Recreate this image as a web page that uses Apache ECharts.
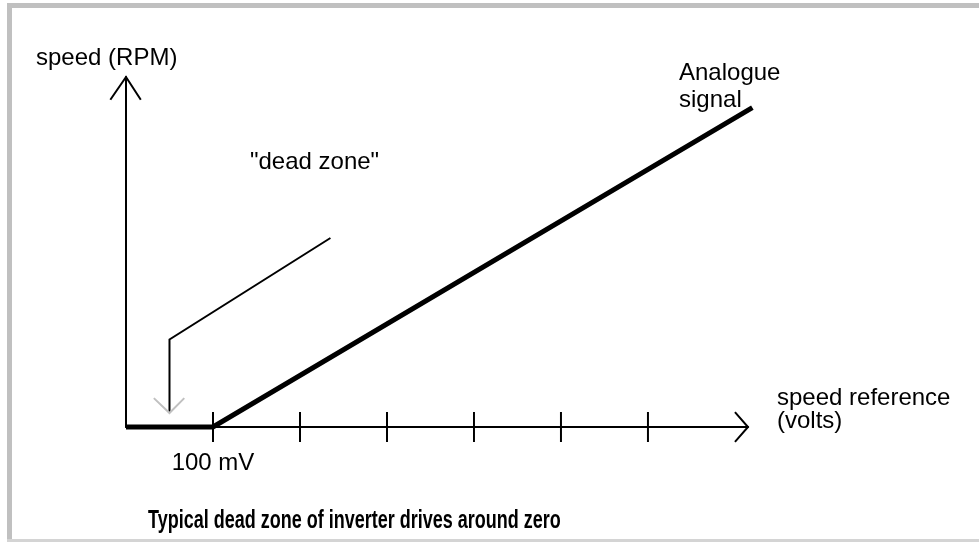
<!DOCTYPE html>
<html>
<head>
<meta charset="utf-8">
<script src="https://cdn.jsdelivr.net/npm/echarts@6/dist/echarts.min.js"></script>
<style>
  html, body { margin: 0; padding: 0; background: #fff; }
  #chart { width: 979px; height: 542px; }
</style>
</head>
<body>
<div id="chart"></div>
<script>
// Speed reference in tick units (one tick = 100 mV step) against motor speed
const tickValues = [1, 2, 3, 4, 5, 6];
const tickLabelText = '100 mV';
const signalX = [0, 1, 7.2];
const signalY = [0, 0, 3.65];
// "dead zone" leader: kinked line ending in an open arrow
const leaderX = [2.35, 0.5, 0.5];
const leaderY = [2.16, 1.0, 0.16];
const leaderHeadX = [0.32, 0.5, 0.67];
const leaderHeadY = [0.33, 0.16, 0.33];
// open arrowheads at the ends of both axes
const yArrowX = [-0.18, 0, 0.17];
const yArrowY = [3.74, 4.0, 3.74];
const xArrowX = [7.0, 7.15, 7.0];
const xArrowY = [0.17, 0, -0.17];

const FONT = '"Liberation Sans", Arial, sans-serif';
const toPairs = (xs, ys) => xs.map((x, i) => [x, ys[i]]);

const chart = echarts.init(document.getElementById('chart'), null, { renderer: 'canvas' });

// a polyline drawn through the axes' scales
const polyline = (name, xs, ys, width, color) => ({
  name, type: 'custom', silent: true, animation: false, clip: false,
  data: [0],
  renderItem: (params, api) => ({
    type: 'polyline',
    shape: { points: toPairs(xs, ys).map(p => api.coord(p)) },
    style: { stroke: color, lineWidth: width, fill: null, lineJoin: 'miter', lineCap: 'butt' }
  })
});

const text = (str, x, y, extra) => ({
  type: 'text', silent: true,
  style: Object.assign({ text: str, x, y, font: '24px ' + FONT, fill: '#000', verticalAlign: 'middle' }, extra || {})
});

chart.setOption({
  animation: false,
  grid: { left: 126, top: 77, right: 231, bottom: 115 },
  xAxis: {
    type: 'value', min: 0, max: 7.15, interval: 1,
    splitLine: { show: false },
    axisTick: { show: false },
    axisLine: { show: true, lineStyle: { color: '#000', width: 2 } },
    axisLabel: {
      show: true, margin: 24, color: '#000', fontSize: 24, fontFamily: FONT,
      showMaxLabel: false,
      formatter: v => (v === 1 ? tickLabelText : '')
    }
  },
  yAxis: {
    type: 'value', min: 0, max: 4,
    splitLine: { show: false },
    axisTick: { show: false },
    axisLabel: { show: false },
    axisLine: { show: true, lineStyle: { color: '#000', width: 2 } }
  },
  graphic: [
    // frame
    { type: 'rect', silent: true, shape: { x: 7, y: 3, width: 972, height: 5 }, style: { fill: '#c0c0c0' } },
    { type: 'rect', silent: true, shape: { x: 7, y: 3, width: 5, height: 539 }, style: { fill: '#c0c0c0' } },
    { type: 'rect', silent: true, shape: { x: 7, y: 539, width: 972, height: 3 }, style: { fill: '#d4d4d4' } },
    text('speed (RPM)', 36, 58),
    text('Analogue\nsignal', 679, 87, { lineHeight: 27 }),
    text('"dead zone"', 250, 162),
    text('speed reference\n(volts)', 777, 410, { lineHeight: 23 }),
    { type: 'text', silent: true, x: 148, y: 521, scaleX: 0.72,
      style: { text: 'Typical dead zone of inverter drives around zero', x: 0, y: 0,
               font: 'bold 25px ' + FONT, fill: '#000', verticalAlign: 'middle' } }
  ],
  series: [
    {
      name: 'ticks', type: 'custom', silent: true, animation: false, clip: false,
      data: tickValues.map(v => [v, 0]),
      renderItem: (params, api) => {
        const p = api.coord([api.value(0), api.value(1)]);
        return {
          type: 'line',
          shape: { x1: p[0], y1: p[1] - 15, x2: p[0], y2: p[1] + 15 },
          style: { stroke: '#000', lineWidth: 2 }
        };
      }
    },
    polyline('y arrow', yArrowX, yArrowY, 2, '#000'),
    polyline('x arrow', xArrowX, xArrowY, 2, '#000'),
    polyline('leader', leaderX, leaderY, 2, '#000'),
    polyline('leader head', leaderHeadX, leaderHeadY, 2, '#c0c0c0'),
    polyline('Analogue signal', signalX, signalY, 5, '#000')
  ]
});
</script>
</body>
</html>
